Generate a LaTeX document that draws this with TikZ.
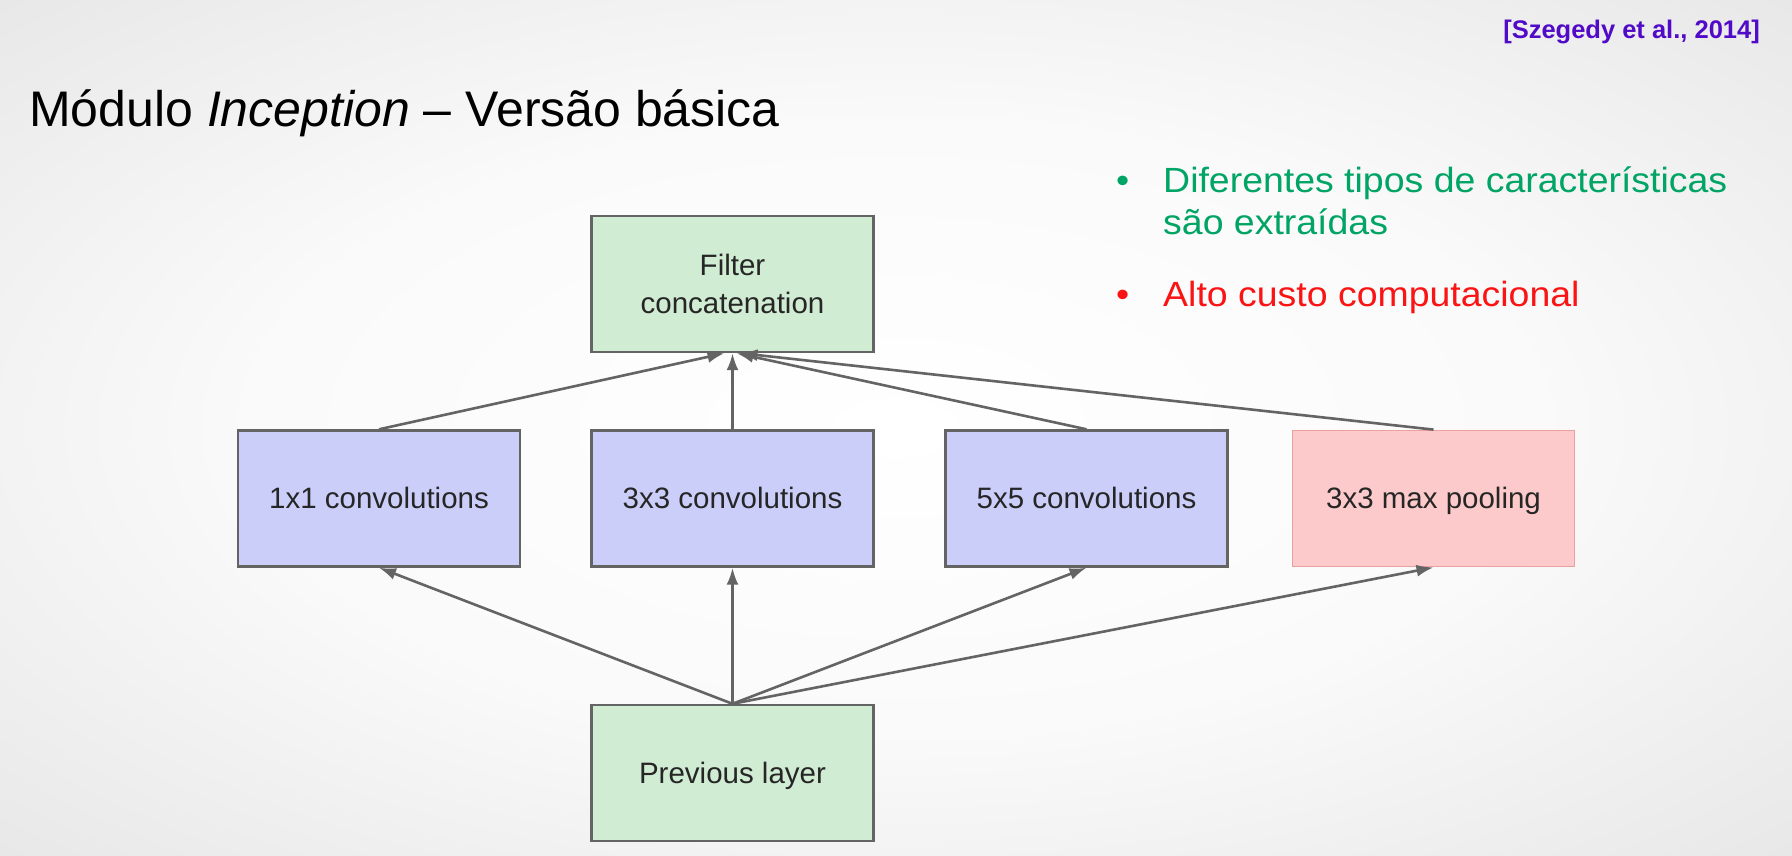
\documentclass[tikz,border=0pt]{standalone}
\usepackage{fontspec}
\setmainfont{Liberation Sans}
\newfontfamily\widesans[FakeStretch=1.07]{Liberation Sans}
\usetikzlibrary{arrows.meta}

\definecolor{boxgreen}{RGB}{208,236,210}
\definecolor{boxblue}{RGB}{204,206,250}
\definecolor{boxpink}{RGB}{252,202,202}
\definecolor{pinkedge}{RGB}{236,160,160}
\definecolor{edgegray}{RGB}{100,100,100}
\definecolor{citeblue}{RGB}{80,10,200}
\definecolor{bulletgreen}{RGB}{0,164,100}
\definecolor{bulletred}{RGB}{250,20,20}

\pgfdeclareradialshading{slidebg}{\pgfpoint{0bp}{0bp}}{%
  color(0bp)=(white); color(18bp)=(white!98!black);
  color(45bp)=(white!87!black); color(72bp)=(white!82!black)}

\tikzset{
  layer/.style={draw=edgegray, line width=2.4pt, minimum width=282pt,
    minimum height=136pt, inner sep=0pt, align=center, text=black!85,
    font=\fontsize{29.5}{38}\selectfont},
  oneline/.style={text height=25pt, text depth=5pt},
  arr/.style={draw=edgegray, line width=2.6pt,
    -{Latex[length=17pt,width=12pt]}},
  plain/.style={inner sep=0pt, anchor=base west}
}

\begin{document}
\begin{tikzpicture}[x=1pt, y=-1pt]
  % slide background
  \useasboundingbox (0,0) rectangle (1792,855);
  \shade[shading=slidebg] (0,0) rectangle (1792,855);

  % heading and citation
  \node[plain] (title) at (29,126)
    {\fontsize{50}{58}\selectfont Módulo \textit{Inception} – Versão básica};
  \node[inner sep=0pt, anchor=base east, text=citeblue] (cite) at (1760,38)
    {\fontsize{25.5}{30}\selectfont\bfseries [Szegedy et al., 2014]};

  % remarks on the right
  \begin{scope}[font=\widesans\fontsize{35}{42}\selectfont]
    \node[plain, text=bulletgreen] (b1) at (1116,192) {\textbullet};
    \node[plain, text=bulletgreen] (t1) at (1163,192) {Diferentes tipos de características};
    \node[plain, text=bulletgreen] (t1b) at (1163,234) {são extraídas};
    \node[plain, text=bulletred] (b2) at (1116,306) {\textbullet};
    \node[plain, text=bulletred] (t2) at (1163,306) {Alto custo computacional};
  \end{scope}

  % layers of the module
  \node[layer, fill=boxgreen] (concat) at (732.5,284) {Filter\\concatenation};
  \node[layer, oneline, fill=boxblue] (c1) at (379,498.5) {1x1 convolutions};
  \node[layer, oneline, fill=boxblue] (c3) at (732.5,498.5) {3x3 convolutions};
  \node[layer, oneline, fill=boxblue] (c5) at (1086.5,498.5) {5x5 convolutions};
  \node[layer, oneline, fill=boxpink, draw=pinkedge, line width=1.8pt] (pool) at (1433.5,498.5) {3x3 max pooling};
  \node[layer, oneline, fill=boxgreen] (prev) at (732.5,773) {Previous layer};

  % input to each branch
  \draw[arr] (prev.north) -- (c1.south);
  \draw[arr] (prev.north) -- (c3.south);
  \draw[arr] (prev.north) -- (c5.south);
  \draw[arr] (prev.north) -- (pool.south);

  % branches into the concatenation
  \draw[arr] (c1.north) -- ([xshift=-8pt]concat.south);
  \draw[arr] (c3.north) -- (concat.south);
  \draw[arr] (c5.north) -- ([xshift=4pt]concat.south);
  \draw[arr] (pool.north) -- ([xshift=8pt]concat.south);
\end{tikzpicture}
\end{document}
